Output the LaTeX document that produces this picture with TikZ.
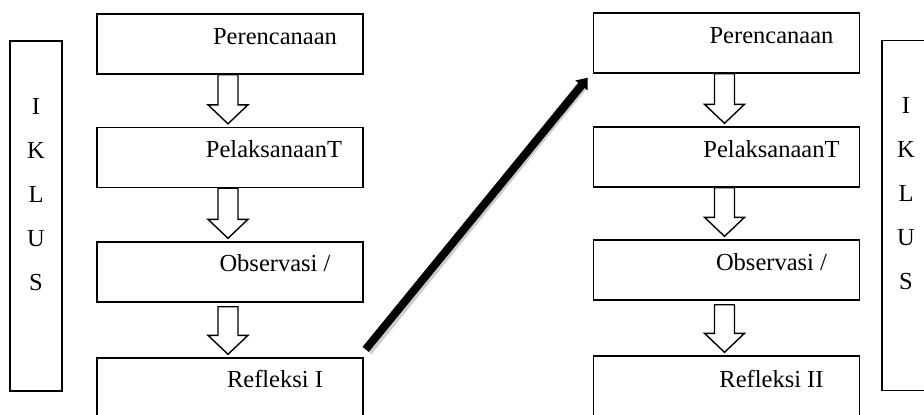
\documentclass[tikz,border=0pt]{standalone}
\usepackage{fontspec}
\setmainfont{Liberation Serif}
\usetikzlibrary{calc,arrows.meta}
\newcommand\hollowarrow[3][0pt]{%
  \path[hollow] let \p1=(#2.south), \p2=(#3.north) in
  (\x1-12pt,\y1-#1) -- (\x1-12pt,\y2+22pt) -- (\x1-22pt,\y2+22pt) -- (\x1-2pt,\y2+3pt)
  -- (\x1+18pt,\y2+22pt) -- (\x1+8pt,\y2+22pt) -- (\x1+8pt,\y1-#1) -- cycle;}
\begin{document}
\begin{tikzpicture}[x=1pt,y=-1pt,
  box/.style={draw,line width=1.4pt,minimum width=266pt,minimum height=60pt,inner sep=0pt},
  lastbox/.style={box,minimum height=66pt},
  sidebox/.style={draw,line width=1.4pt,minimum width=52pt,minimum height=350pt,inner sep=0pt},
  lbl/.style={font=\fontsize{24.5}{28}\selectfont,anchor=base,inner sep=0pt},
  hollow/.style={draw,line width=1.4pt,fill=white,line join=miter},
  bigarrow/.style={line width=8pt,-{Triangle[length=10pt,width=15pt]}},
  shadowline/.style={line width=11pt,black,opacity=0.2},
  ]
\useasboundingbox (0,0) rectangle (924,415);
\clip (0,0) rectangle (924,415);

% left column
\node[box] (L1) at (230,44) {};
\node[box] (L2) at (230,157.5) {};
\node[box] (L3) at (230,272) {};
\node[lastbox] (L4) at (230,391) {};
% right column
\node[box] (R1) at (726.5,43) {};
\node[box] (R2) at (726.5,157) {};
\node[box] (R3) at (726.5,270) {};
\node[lastbox] (R4) at (726.5,389) {};
% side boxes
\node[sidebox] (SL) at (36,216) {};
\node[sidebox] (SR) at (908,215.5) {};

% labels
\node[lbl] (tL1) at ($(L1.north)+(45pt,-31pt)$) {Perencanaan};
\node[lbl] (tL2) at ($(L2.north)+(44pt,-31pt)$) {PelaksanaanT};
\node[lbl] (tL3) at ($(L3.north)+(45pt,-30pt)$) {Observasi /};
\node[lbl] (tL4) at ($(L4.north)+(45pt,-30pt)$) {Refleksi I};
\node[lbl] (tR1) at ($(R1.north)+(45pt,-31pt)$) {Perencanaan};
\node[lbl] (tR2) at ($(R2.north)+(45pt,-31pt)$) {PelaksanaanT};
\node[lbl] (tR3) at ($(R3.north)+(45pt,-31pt)$) {Observasi /};
\node[lbl] (tR4) at ($(R4.north)+(45pt,-32pt)$) {Refleksi II};

% side letters
\foreach \s/\l [count=\i from 0] in {SL/I,SL/K,SL/L,SL/U,SL/S} {
  \node[lbl] (\s\i) at ($(\s.north)+(0pt,-74pt-44pt*\i)$) {\l};
}
\foreach \s/\l [count=\i from 0] in {SR/I,SR/K,SR/L,SR/U,SR/S} {
  \node[lbl] (\s\i) at ($(\s.north)+(-2pt,-74pt-44pt*\i)$) {\l};
}

% hollow arrows
\hollowarrow{L1}{L2}
\hollowarrow{L2}{L3}
\hollowarrow[4pt]{L3}{L4}
\hollowarrow{R1}{R2}
\hollowarrow{R2}{R3}
\hollowarrow[4pt]{R3}{R4}

% diagonal arrow
\coordinate (d0) at ($(L4.north east)+(2pt,8pt)$);
\coordinate (d1) at ($(R1.south west)+(-5pt,-4pt)$);
\draw[shadowline] ($(d0)+(1.5pt,-1.5pt)$) -- ($(d1)+(-4pt,-6pt)$);
\draw[bigarrow] (d0) -- (d1);
\end{tikzpicture}
\end{document}
